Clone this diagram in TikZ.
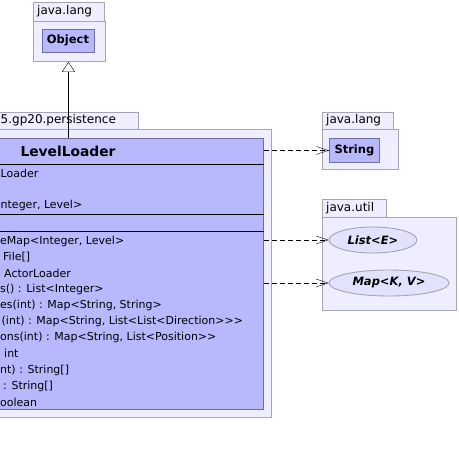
\documentclass[tikz,border=0pt]{standalone}
\usepackage{fontspec}
\setmainfont{DejaVu Sans}
\usetikzlibrary{arrows.meta,shapes.geometric}
\definecolor{pkgfill}{HTML}{EEEEFF}
\definecolor{pkgline}{HTML}{A4A4B4}
\definecolor{clsfill}{HTML}{B8B8FF}
\definecolor{clsline}{HTML}{6E6E9E}
\definecolor{ifcfill}{HTML}{E2E2FC}
\begin{document}
\begin{tikzpicture}[x=1pt, y=-1pt,
    pkg/.style={draw=pkgline, fill=pkgfill, line width=0.9pt, anchor=north west, inner sep=0pt},
    pkgname/.style={anchor=west, inner sep=0pt, font=\fontsize{12}{14}\selectfont},
    cls/.style={draw=clsline, fill=clsfill, line width=0.9pt, anchor=north west, inner sep=0pt, font=\fontsize{11.5}{13}\selectfont\bfseries},
    ifc/.style={ellipse, draw=pkgline, fill=ifcfill, line width=0.9pt, inner sep=0pt, font=\fontsize{11.5}{13}\selectfont\bfseries\itshape},
    member/.style={anchor=west, inner sep=0pt, font=\fontsize{11}{13}\selectfont},
    dep/.style={dash pattern=on 5pt off 3pt, -{Straight Barb[length=12pt,width=8pt]}},
    extends/.style={-{Triangle[length=10pt,width=13pt,fill=white]}}
  ]
  \useasboundingbox (0,0) rectangle (459,455);
  \clip (0,0) rectangle (459,455);

  % java.lang with Object
  \node[pkg, minimum width=71pt, minimum height=19pt] (objtab) at (33,2) {};
  \node[pkg, minimum width=72pt, minimum height=40pt] (objpkg) at (33,21) {};
  \node[pkgname] at (37,11.5) {java.lang};
  \node[cls, minimum width=52pt, minimum height=23pt, anchor=center] (obj) at (68,40.5) {Object};

  % persistence package and LevelLoader
  \node[pkg, minimum width=238pt, minimum height=17pt] (pertab) at (-100,112) {};
  \node[pkg, minimum width=471pt, minimum height=288pt] (perpkg) at (-200,129) {};
  \node[pkgname] at (0.5,120.5) {5.gp20.persistence};
  \node[cls, minimum width=390pt, minimum height=271pt] (ll) at (-127,138) {};
  \node[font=\fontsize{13.8}{16}\selectfont\bfseries] (llname) at (68,151) {LevelLoader};
  \draw[line width=0.9pt] (ll.west |- 0,164) -- (ll.east |- 0,164);
  \draw[line width=0.9pt] (ll.west |- 0,214) -- (ll.east |- 0,214);
  \draw[line width=0.9pt] (ll.west |- 0,231) -- (ll.east |- 0,231);

  % fields
  \node[member] (f1) at (0.5,173) {Loader};
  \node[member] (f2) at (0.5,205) {nteger, Level>};

  % methods
  \node[member] (m1) at (0,241) {eMap<Integer, Level>};
  \node[member] (m2) at (3,257) {File[]};
  \node[member] (m3) at (4,273) {ActorLoader};
  \node[member] (m4) at (0,289) {s() : List<Integer>};
  \node[member] (m5) at (0,305) {es(int) : Map<String, String>};
  \node[member] (m6) at (1.5,321) {(int) : Map<String, List<List<Direction>{}>{}>};
  \node[member] (m7) at (0,337) {ons(int) : Map<String, List<Position>{}>};
  \node[member] (m8) at (4,353) {int};
  \node[member] (m9) at (0,370) {nt) : String[]};
  \node[member] (m10) at (3,386) {: String[]};
  \node[member] (m11) at (0,402) {oolean};

  % java.lang with String
  \node[pkg, minimum width=71pt, minimum height=17pt] (strtab) at (322,112) {};
  \node[pkg, minimum width=76pt, minimum height=40pt] (strpkg) at (322,129) {};
  \node[pkgname] at (326,120.5) {java.lang};
  \node[cls, minimum width=50pt, minimum height=24pt] (str) at (329,138) {String};

  % java.util with List and Map
  \node[pkg, minimum width=64pt, minimum height=18pt] (utiltab) at (322,199) {};
  \node[pkg, minimum width=134pt, minimum height=93pt] (utilpkg) at (322,217) {};
  \node[pkgname] at (326,208) {java.util};
  \node[ifc, minimum width=88pt, minimum height=26pt] (lst) at (373,240) {List<E>};
  \node[ifc, minimum width=120pt, minimum height=26pt] (map) at (389,283) {Map<K, V>};

  % generalization and dependencies
  \draw[extends] (ll.north) -- (ll.north |- objpkg.south);
  \draw[dep] (str.west -| ll.east) -- (str.west);
  \draw[dep] (lst.west -| ll.east) -- (lst.west);
  \draw[dep] (map.west -| ll.east) -- (map.west);
\end{tikzpicture}
\end{document}
